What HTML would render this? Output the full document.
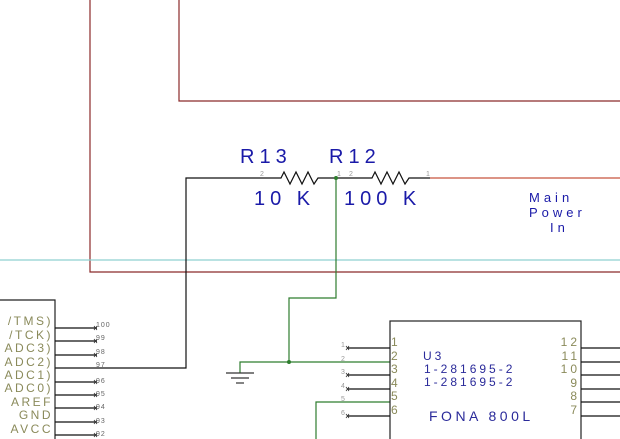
<!DOCTYPE html>
<html><head><meta charset="utf-8"><style>
html,body{margin:0;padding:0;background:#fff;width:620px;height:439px;overflow:hidden}
svg{display:block}
text{font-family:"Liberation Sans",sans-serif}
</style></head><body>
<svg width="620" height="439" viewBox="0 0 620 439" xmlns="http://www.w3.org/2000/svg">
<g stroke="#8b2a2a" stroke-width="1.2" fill="none">
<polyline points="90,0 90,272 620,272"/>
<polyline points="179,0 179,101 620,101"/>
</g>
<line x1="430" y1="178" x2="620" y2="178" stroke="#c8553f" stroke-width="1.2"/>
<line x1="0" y1="260" x2="620" y2="260" stroke="#8fd0d0" stroke-width="1.2"/>
<g stroke="#111" stroke-width="1.2" fill="none">
<polyline points="55,368 186,368 186,178 281,178 284,172 290,184 296,172 302,184 308,172 314,184 318,178 372,178 375,172 381,184 387,172 393,184 399,172 405,184 409,178 430,178"/>
</g>
<g stroke="#2e7d2e" stroke-width="1.2" fill="none">
<polyline points="336,178 336,298 289,298 289,362"/>
<polyline points="240,373 240,362 390,362"/>
<polyline points="316,439 316,402 390,402"/>
</g>
<circle cx="336" cy="178" r="2" fill="#2e7d2e"/>
<circle cx="289" cy="362" r="2" fill="#2e7d2e"/>
<g stroke="#333" stroke-width="1.2">
<line x1="226" y1="373" x2="254" y2="373"/>
<line x1="231" y1="378" x2="249" y2="378"/>
<line x1="236" y1="383" x2="244" y2="383"/>
</g>
<g fill="#1a1aa8" font-size="20" letter-spacing="5">
<text x="240" y="163">R13</text>
<text x="329" y="163">R12</text>
<text x="254" y="205">10 K</text>
<text x="344" y="205">100 K</text>
</g>
<g fill="#999" font-size="7">
<text x="260" y="176">2</text><text x="337" y="176">1</text><text x="349" y="176">2</text><text x="426" y="176">1</text>
</g>
<g fill="#1a1aa8" font-size="13" letter-spacing="4">
<text x="529" y="202">Main</text><text x="529" y="217">Power</text><text x="550" y="232">In</text>
</g>
<polyline points="0,300 55,300 55,439" fill="none" stroke="#222" stroke-width="1.2"/>
<g stroke="#111" stroke-width="1.2">
<line x1="55" y1="328" x2="97" y2="328"/><line x1="55" y1="341" x2="97" y2="341"/>
<line x1="55" y1="355" x2="97" y2="355"/><line x1="55" y1="382" x2="97" y2="382"/>
<line x1="55" y1="395" x2="97" y2="395"/><line x1="55" y1="408" x2="97" y2="408"/>
<line x1="55" y1="422" x2="97" y2="422"/><line x1="55" y1="435" x2="97" y2="435"/>
</g>
<g stroke="#333" stroke-width="0.8">
<path d="M94,326l3,4M97,326l-3,4M94,339l3,4M97,339l-3,4M94,353l3,4M97,353l-3,4M94,380l3,4M97,380l-3,4M94,393l3,4M97,393l-3,4M94,406l3,4M97,406l-3,4M94,420l3,4M97,420l-3,4M94,433l3,4M97,433l-3,4"/>
<path d="M346,346l3,4M349,346l-3,4M346,373l3,4M349,373l-3,4M346,387l3,4M349,387l-3,4M346,414l3,4M349,414l-3,4"/>
</g>
<g fill="#8a8a5a" font-size="12" letter-spacing="2.5" text-anchor="end">
<text x="53" y="325">/TMS)</text><text x="53" y="339">/TCK)</text><text x="53" y="352">ADC3)</text>
<text x="53" y="366">ADC2)</text><text x="53" y="379">ADC1)</text><text x="53" y="392">ADC0)</text>
<text x="53" y="406">AREF</text><text x="53" y="419">GND</text><text x="53" y="433">AVCC</text>
</g>
<g fill="#666" font-size="7" letter-spacing="1">
<text x="96" y="327">100</text><text x="96" y="340">99</text><text x="96" y="354">98</text><text x="96" y="367">97</text>
<text x="96" y="383">96</text><text x="96" y="396">95</text><text x="96" y="409">94</text><text x="96" y="423">93</text><text x="96" y="436">92</text>
</g>
<rect x="390" y="321" width="191" height="130" fill="none" stroke="#222" stroke-width="1.2"/>
<g stroke="#111" stroke-width="1.2">
<line x1="348" y1="348" x2="390" y2="348"/><line x1="348" y1="375" x2="390" y2="375"/>
<line x1="348" y1="389" x2="390" y2="389"/><line x1="348" y1="416" x2="390" y2="416"/>
<line x1="581" y1="348" x2="620" y2="348"/><line x1="581" y1="362" x2="620" y2="362"/>
<line x1="581" y1="375" x2="620" y2="375"/><line x1="581" y1="389" x2="620" y2="389"/>
<line x1="581" y1="402" x2="620" y2="402"/><line x1="581" y1="416" x2="620" y2="416"/>
</g>
<g fill="#999" font-size="7">
<text x="341" y="347">1</text><text x="341" y="361">2</text><text x="341" y="374">3</text>
<text x="341" y="388">4</text><text x="341" y="401">5</text><text x="341" y="415">6</text>
</g>
<g fill="#8a8a5a" font-size="12">
<text x="391" y="346">1</text><text x="391" y="360">2</text><text x="391" y="373">3</text>
<text x="391" y="387">4</text><text x="391" y="400">5</text><text x="391" y="414">6</text>
</g>
<g fill="#8a8a5a" font-size="12" text-anchor="end" letter-spacing="3">
<text x="580" y="346">12</text><text x="580" y="360">11</text><text x="580" y="373">10</text>
<text x="580" y="387">9</text><text x="580" y="400">8</text><text x="580" y="414">7</text>
</g>
<g fill="#2a2a9a" font-size="12" letter-spacing="3">
<text x="423" y="360">U3</text>
<text x="424" y="373">1-281695-2</text>
<text x="424" y="386">1-281695-2</text>
</g>
<text x="429" y="421" fill="#2a2a9a" font-size="14" letter-spacing="3.5">FONA 800L</text>
</svg>
</body></html>
